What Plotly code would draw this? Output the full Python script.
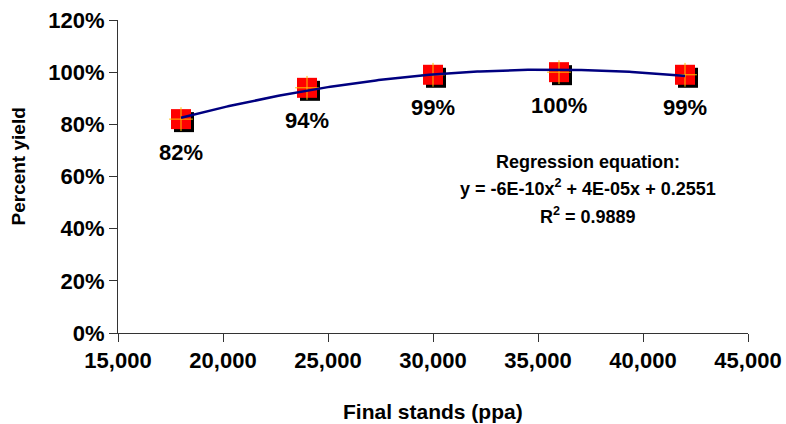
import numpy as np
import plotly.graph_objects as go

# ---- data ----
stands = [18000, 24000, 30000, 36000, 42000]
yield_pct = [0.82, 0.94, 0.99, 1.00, 0.99]
point_labels = ["82%", "94%", "99%", "100%", "99%"]
x_ticks = [15000, 20000, 25000, 30000, 35000, 40000, 45000]
x_tick_labels = ["15,000", "20,000", "25,000", "30,000", "35,000", "40,000", "45,000"]
y_ticks = [0, 0.2, 0.4, 0.6, 0.8, 1.0, 1.2]
y_tick_labels = ["0%", "20%", "40%", "60%", "80%", "100%", "120%"]
eq_lines = ["Regression equation:",
            "y = -6E-10x<sup>2</sup> + 4E-05x + 0.2551",
            "R<sup>2</sup> = 0.9889"]
x_title = "Final stands (ppa)"
y_title = "Percent yield"

FONT = "Liberation Sans, Arial, sans-serif"
W, H = 786, 424
ML, MR, MT, MB = 118, 38, 20, 91
XR = [15000, 45000]
YR = [0, 1.2]
pw, ph = W - ML - MR, H - MT - MB
dx = 3 * (XR[1] - XR[0]) / pw
dy = 3 * (YR[1] - YR[0]) / ph

# quadratic trendline fitted to the points
coef = np.polyfit(stands, yield_pct, 2)
xs = np.linspace(min(stands), max(stands), 200)
ys = np.polyval(coef, xs)

fig = go.Figure()
# shadow
fig.add_trace(go.Scatter(x=[v + dx for v in stands], y=[v - dy for v in yield_pct],
                         mode="markers", hoverinfo="skip",
                         marker=dict(symbol="square", size=20, color="black", line=dict(width=0))))
# red squares
fig.add_trace(go.Scatter(x=stands, y=yield_pct, mode="markers",
                         marker=dict(symbol="square", size=20, color="#FF0000", line=dict(width=0))))
# yellow cross
fig.add_trace(go.Scatter(x=stands, y=yield_pct, mode="markers", hoverinfo="skip",
                         marker=dict(symbol="cross-thin", size=17, color="#FFC000",
                                     line=dict(width=1, color="#FFC000"))))
# trendline
fig.add_trace(go.Scatter(x=xs, y=ys, mode="lines", hoverinfo="skip",
                         line=dict(color="#000080", width=2.5)))

for xv, yv, t in zip(stands, yield_pct, point_labels):
    fig.add_annotation(x=xv, y=yv, text="<b>" + t + "</b>", showarrow=False, yshift=-33,
                       font=dict(family=FONT, size=22, color="black"))

eq_y = [0.656, 0.556, 0.452]
for t, yv in zip(eq_lines, eq_y):
    fig.add_annotation(x=37400, y=yv, text="<b>" + t + "</b>", showarrow=False,
                       font=dict(family=FONT, size=18, color="black"))

# axis titles
fig.add_annotation(xref="paper", yref="paper", x=0.5, y=0, yshift=-(411 - (H - MB)),
                   text="<b>" + x_title + "</b>", showarrow=False, yanchor="middle",
                   font=dict(family=FONT, size=21, color="black"))
fig.add_annotation(xref="paper", yref="paper", x=0, y=0.5, xshift=-(ML - 18), yshift=10,
                   text="<b>" + y_title + "</b>", showarrow=False, textangle=-90,
                   xanchor="center", font=dict(family=FONT, size=19, color="black"))

fig.update_layout(
    width=W, height=H, showlegend=False,
    paper_bgcolor="white", plot_bgcolor="white",
    margin=dict(l=ML, r=MR, t=MT, b=MB, autoexpand=False),
    font=dict(family=FONT, color="black"),
)
fig.update_xaxes(range=XR, tickvals=x_ticks, ticktext=["<b>%s</b>" % s for s in x_tick_labels],
                 showgrid=False, zeroline=False, showline=True, linecolor="#333333", linewidth=1,
                 ticks="outside", ticklen=8, tickcolor="#333333", automargin=False,
                 ticklabeloverflow="allow",
                 tickfont=dict(family=FONT, size=22, color="black"))
fig.update_yaxes(range=YR, tickvals=y_ticks, ticktext=["<b>%s</b>" % s for s in y_tick_labels],
                 showgrid=False, zeroline=False, showline=True, linecolor="#333333", linewidth=1,
                 ticks="outside", ticklen=8, tickcolor="#333333", automargin=False,
                 ticklabeloverflow="allow",
                 tickfont=dict(family=FONT, size=22, color="black"))

fig.write_html("out.html", config={"displayModeBar": False},
               post_script="document.body.style.margin='0';document.body.style.overflow='hidden';")
